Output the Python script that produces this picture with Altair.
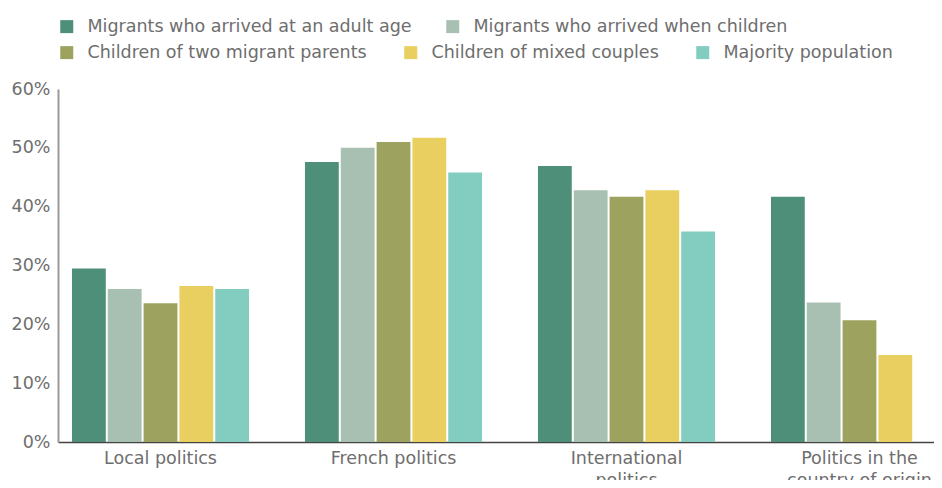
import altair as alt
import pandas as pd

categories = ["Local politics", "French politics", "International politics",
              "Politics in the country of origin"]
series = ["Migrants who arrived at an adult age", "Migrants who arrived when children",
          "Children of two migrant parents", "Children of mixed couples", "Majority population"]
colors = ["#4e8f79", "#a8c0b1", "#9da35f", "#e9cf60", "#82cdc0"]

adult = [29.5, 47.6, 46.9, 41.7]
children = [26.0, 50.0, 42.8, 23.7]
two_parents = [23.6, 51.0, 41.7, 20.7]
mixed = [26.5, 51.7, 42.8, 14.8]
majority = [26.0, 45.8, 35.8, None]

values = [adult, children, two_parents, mixed, majority]
rows = []
for s, vals in zip(series, values):
    for c, v in zip(categories, vals):
        if v is not None:
            rows.append({"category": c, "series": s, "value": v / 100})
df = pd.DataFrame(rows)

FONT = "DejaVu Sans"
GRAY = "#6e6e6e"
W = "normal"
FS = 17.5

x_enc = alt.X("category:N", sort=categories, title=None,
              scale=alt.Scale(paddingInner=0.24, paddingOuter=0.06, range=[0, 904]),
              axis=alt.Axis(labelAngle=0, ticks=False, domainColor="#444444", domainWidth=1.5,
                            labelPadding=7, labelFontSize=FS, labelColor=GRAY, labelLimit=300,
                            labelLineHeight=22, labelFont=FONT, labelFontWeight=W,
                            labelExpr="datum.label == 'International politics' ? ['International', 'politics'] : datum.label == 'Politics in the country of origin' ? ['Politics in the', 'country of origin'] : datum.label"))
y_enc = alt.Y("value:Q", title=None,
              scale=alt.Scale(domain=[0, 0.6]),
              axis=alt.Axis(values=[0, 0.1, 0.2, 0.3, 0.4, 0.5, 0.6], format=".0%", ticks=False,
                            grid=False, domainColor="#999999", domainWidth=2, labelPadding=8,
                            labelFontSize=FS, labelColor=GRAY, labelFont=FONT, labelFontWeight=W))
xo_enc = alt.XOffset("series:N", sort=series, scale=alt.Scale(domain=series, paddingInner=0.056))

base = alt.Chart(df)

layer_a = base.transform_filter(
    alt.FieldOneOfPredicate(field="series", oneOf=series[:2])
).mark_bar().encode(
    x=x_enc, y=y_enc, xOffset=xo_enc,
    color=alt.Color("series:N", sort=series[:2],
                    scale=alt.Scale(domain=series[:2], range=colors[:2]),
                    legend=alt.Legend(orient="none", legendX=0, legendY=-71.5, direction="horizontal",
                                      columns=2, title=None, columnPadding=32)),
)

layer_b = base.transform_filter(
    alt.FieldOneOfPredicate(field="series", oneOf=series[2:])
).mark_bar().encode(
    x=x_enc, y=y_enc, xOffset=xo_enc,
    fill=alt.Fill("series:N", sort=series[2:],
                  scale=alt.Scale(domain=series[2:], range=colors[2:]),
                  legend=alt.Legend(orient="none", legendX=0, legendY=-45.5, direction="horizontal",
                                    columns=3, title=None, columnPadding=35)),
)

chart = alt.layer(layer_a, layer_b).resolve_scale(color="independent", fill="independent").properties(
    width=876, height=353,
    autosize=alt.AutoSizeParams(type="none"),
    padding={"left": 50, "top": 81, "right": 0, "bottom": 38},
).configure_view(stroke=None).configure_legend(
    symbolType="square", symbolSize=169, symbolStrokeWidth=0,
    labelFontSize=FS, labelColor=GRAY, labelFont=FONT, labelFontWeight=W, labelOffset=12,
    labelLimit=500,
).configure_axis(labelFont=FONT)

chart.save("out.html", embed_options={"renderer": "svg", "actions": False})
